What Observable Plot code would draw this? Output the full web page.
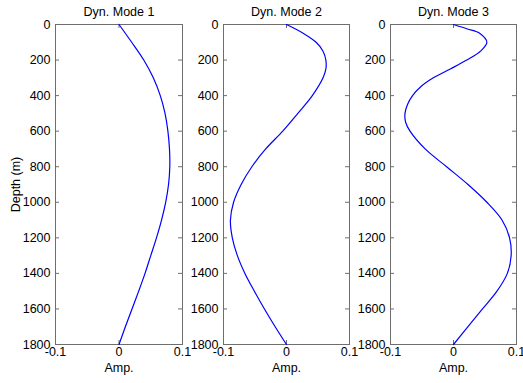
<!DOCTYPE html>
<html>
<head>
<meta charset="utf-8">
<script src="https://cdn.jsdelivr.net/npm/d3@7"></script>
<script src="https://cdn.jsdelivr.net/npm/@observablehq/plot@0.6"></script>
<style>
  html, body { margin: 0; padding: 0; background: #fff; }
  #chart { position: relative; width: 523px; height: 383px; overflow: hidden; }
  #chart svg { position: absolute; top: 0; }
</style>
</head>
<body>
<div id="chart"></div>
<script>
// ---- data ----
const titles = ["Dyn. Mode 1", "Dyn. Mode 2", "Dyn. Mode 3"];
const xTicks = [-0.1, 0, 0.1];
const xTickLabels = ["-0.1", "0", "0.1"];
const yTicks = [0, 200, 400, 600, 800, 1000, 1200, 1400, 1600, 1800];
const yLabel = "Depth (m)";
const xLabel = "Amp.";

const mode1Depth = [0, 100, 200, 300, 400, 500, 600, 700, 800, 900, 1000, 1100, 1200, 1300, 1400, 1500, 1600, 1700, 1800];
const mode1Amp   = [0, 0.020, 0.039, 0.054, 0.065, 0.0725, 0.077, 0.0795, 0.0800, 0.0780, 0.0735, 0.067, 0.059, 0.050, 0.041, 0.031, 0.0205, 0.010, 0];

const mode2Depth = [0, 50, 100, 150, 200, 250, 300, 400, 500, 600, 700, 800, 900, 1000, 1100, 1200, 1300, 1400, 1500, 1600, 1700, 1800];
const mode2Amp   = [0, 0.027, 0.047, 0.058, 0.0625, 0.0625, 0.058, 0.041, 0.018, -0.006, -0.033, -0.055, -0.072, -0.084, -0.089, -0.086, -0.078, -0.066, -0.051, -0.035, -0.018, 0];

const mode3Depth = [0, 25, 50, 100, 150, 200, 250, 300, 350, 400, 450, 500, 550, 600, 700, 800, 900, 1000, 1100, 1200, 1300, 1400, 1500, 1600, 1700, 1800];
const mode3Amp   = [0, 0.022, 0.042, 0.053, 0.043, 0.021, -0.005, -0.032, -0.052, -0.065, -0.073, -0.077, -0.076, -0.069, -0.045, -0.011, 0.023, 0.053, 0.077, 0.089, 0.0915, 0.0855, 0.069, 0.046, 0.023, 0];

const modes = [
  {depth: mode1Depth, amp: mode1Amp},
  {depth: mode2Depth, amp: mode2Amp},
  {depth: mode3Depth, amp: mode3Amp}
];

// ---- layout ----
const panels = [
  {left: 0,   width: 192, marginLeft: 55, marginRight: 10},
  {left: 183, width: 176, marginLeft: 40, marginRight: 10},
  {left: 350, width: 173, marginLeft: 40, marginRight: 7}
];
const H = 383, MT = 24, MB = 39;
const frameColor = "#6e6e6e";
const tickLen = 4;
const fs = 12.5;

const chart = document.getElementById("chart");

panels.forEach((p, i) => {
  const pw = p.width - p.marginLeft - p.marginRight;
  const ph = H - MT - MB;
  const data = modes[i].depth.map((d, j) => ({depth: d, amp: modes[i].amp[j]}));
  const marks = [
    Plot.frame({stroke: frameColor}),
    // inward ticks on all four sides
    Plot.tickY(yTicks, {y: d => d, stroke: frameColor, insetRight: pw - tickLen}),
    Plot.tickY(yTicks, {y: d => d, stroke: frameColor, insetLeft: pw - tickLen}),
    Plot.tickX(xTicks, {x: d => d, stroke: frameColor, insetTop: ph - tickLen}),
    Plot.tickX(xTicks, {x: d => d, stroke: frameColor, insetBottom: ph - tickLen}),
    // tick labels
    Plot.axisY(yTicks, {anchor: "left", tickSize: 0, tickPadding: 5, label: null, fill: "#000", fontSize: fs,
      tickFormat: d => String(d)}),
    Plot.axisX(xTicks, {anchor: "bottom", tickSize: 0, tickPadding: 3, label: null, fill: "#000", fontSize: fs,
      tickFormat: d => xTickLabels[xTicks.indexOf(d)]}),
    // curve
    Plot.line(data, {x: "amp", y: "depth", stroke: "#0000ff", strokeWidth: 1.2, curve: "catmull-rom"}),
    // title and x label
    Plot.text([titles[i]], {frameAnchor: "top", dy: -13, lineAnchor: "middle", fontSize: fs, fill: "#000"}),
    Plot.text([xLabel], {frameAnchor: "bottom", dy: 23, lineAnchor: "middle", fontSize: fs, fill: "#000"})
  ];
  if (i === 0) {
    marks.push(Plot.text([yLabel], {frameAnchor: "left", dx: -40, rotate: -90, textAnchor: "middle", lineAnchor: "middle", fontSize: fs, fill: "#000"}));
  }
  const svg = Plot.plot({
    width: p.width,
    height: H,
    marginLeft: p.marginLeft,
    marginRight: p.marginRight,
    marginTop: MT,
    marginBottom: MB,
    style: {fontFamily: "'Liberation Sans', Arial, sans-serif", fontSize: fs + "px", background: "transparent", overflow: "visible"},
    x: {domain: [-0.1, 0.1], axis: null},
    y: {domain: [0, 1800], reverse: true, axis: null},
    marks
  });
  svg.style.left = p.left + "px";
  chart.appendChild(svg);
});
</script>
</body>
</html>
